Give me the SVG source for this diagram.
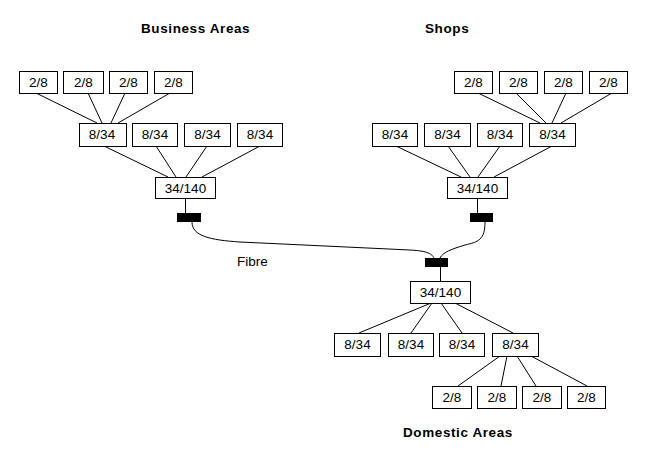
<svg xmlns="http://www.w3.org/2000/svg" width="666" height="456" viewBox="0 0 666 456">
<style>
.b rect{fill:#fff;stroke:#000;stroke-width:1}
.b text{font-family:"Liberation Sans",Arial,sans-serif;font-size:13.5px;text-anchor:middle;fill:#000}
.t{font-family:"Liberation Sans",Arial,sans-serif;font-size:13.5px;font-weight:bold;letter-spacing:0.6px;fill:#000}
.l{font-family:"Liberation Sans",Arial,sans-serif;font-size:13.5px;fill:#000}
#connectors line,#connectors path{stroke:#000;stroke-width:1;fill:none}
.blk{fill:#000}
</style>
<rect width="666" height="456" fill="#fff"/>
<text class="t" x="141" y="33">Business Areas</text>
<text class="t" x="425" y="33">Shops</text>
<text class="t" x="403" y="437">Domestic Areas</text>
<text class="l" x="237" y="266">Fibre</text>
<g id="connectors">
<line x1="36" y1="93" x2="97" y2="123"/>
<line x1="88" y1="93" x2="102" y2="123"/>
<line x1="125" y1="93" x2="111" y2="123"/>
<line x1="170" y1="93" x2="118" y2="123"/>
<line x1="104" y1="146" x2="168" y2="177"/>
<line x1="156" y1="146" x2="176" y2="177"/>
<line x1="207" y1="146" x2="186" y2="177"/>
<line x1="260" y1="146" x2="202" y2="177"/>
<line x1="185.5" y1="198" x2="185.5" y2="213"/>
<line x1="478" y1="93" x2="540" y2="123"/>
<line x1="516" y1="93" x2="546" y2="123"/>
<line x1="566" y1="93" x2="552" y2="123"/>
<line x1="612" y1="93" x2="561" y2="123"/>
<line x1="396" y1="146" x2="461" y2="177"/>
<line x1="448" y1="146" x2="470" y2="177"/>
<line x1="500" y1="146" x2="478" y2="177"/>
<line x1="552" y1="146" x2="494" y2="177"/>
<line x1="477.5" y1="198" x2="477.5" y2="213"/>
<path d="M192,222 C192,236 210,240 240,242 L410,250 C428,251 432,254 434,258"/>
<path d="M485,222 C485,240 478,242 465,245 C452,249 443,252 440,258"/>
<line x1="440.5" y1="267" x2="440.5" y2="281"/>
<line x1="431" y1="303" x2="359" y2="333"/>
<line x1="432" y1="303" x2="411" y2="333"/>
<line x1="441" y1="303" x2="462" y2="333"/>
<line x1="455" y1="303" x2="513" y2="333"/>
<line x1="500" y1="356" x2="458" y2="386"/>
<line x1="507" y1="356" x2="501" y2="386"/>
<line x1="517" y1="356" x2="536" y2="386"/>
<line x1="531" y1="356" x2="587" y2="386"/>
</g>
<rect class="blk" x="177" y="213" width="24" height="9"/>
<rect class="blk" x="470" y="213" width="23" height="9"/>
<rect class="blk" x="425" y="258" width="23" height="9"/>
<g id="ba-28-1" class="b"><rect x="19.5" y="71.5" width="38" height="22"/><text x="38.5" y="87">2/8</text></g>
<g id="ba-28-2" class="b"><rect x="63.5" y="71.5" width="40" height="22"/><text x="83.5" y="87">2/8</text></g>
<g id="ba-28-3" class="b"><rect x="109.5" y="71.5" width="38" height="22"/><text x="128.5" y="87">2/8</text></g>
<g id="ba-28-4" class="b"><rect x="154.5" y="71.5" width="38" height="22"/><text x="173.5" y="87">2/8</text></g>
<g id="ba-834-1" class="b"><rect x="79.5" y="123.5" width="47" height="23"/><text x="102" y="139">8/34</text></g>
<g id="ba-834-2" class="b"><rect x="132.5" y="123.5" width="45" height="23"/><text x="155" y="139">8/34</text></g>
<g id="ba-834-3" class="b"><rect x="184.5" y="123.5" width="46" height="23"/><text x="207.5" y="139">8/34</text></g>
<g id="ba-834-4" class="b"><rect x="237.5" y="123.5" width="45" height="23"/><text x="260" y="139">8/34</text></g>
<g id="ba-34140" class="b"><rect x="155.5" y="177.5" width="60" height="21"/><text x="185.5" y="193">34/140</text></g>
<g id="sh-28-1" class="b"><rect x="454.5" y="71.5" width="38" height="22"/><text x="473.5" y="87">2/8</text></g>
<g id="sh-28-2" class="b"><rect x="499.5" y="71.5" width="38" height="22"/><text x="518.5" y="87">2/8</text></g>
<g id="sh-28-3" class="b"><rect x="544.5" y="71.5" width="38" height="22"/><text x="563.5" y="87">2/8</text></g>
<g id="sh-28-4" class="b"><rect x="589.5" y="71.5" width="38" height="22"/><text x="608.5" y="87">2/8</text></g>
<g id="sh-834-1" class="b"><rect x="372.5" y="123.5" width="45" height="23"/><text x="395" y="139">8/34</text></g>
<g id="sh-834-2" class="b"><rect x="424.5" y="123.5" width="46" height="23"/><text x="447.5" y="139">8/34</text></g>
<g id="sh-834-3" class="b"><rect x="477.5" y="123.5" width="45" height="23"/><text x="500" y="139">8/34</text></g>
<g id="sh-834-4" class="b"><rect x="529.5" y="123.5" width="46" height="23"/><text x="552.5" y="139">8/34</text></g>
<g id="sh-34140" class="b"><rect x="447.5" y="177.5" width="60" height="21"/><text x="477.5" y="193">34/140</text></g>
<g id="da-34140" class="b"><rect x="410.5" y="281.5" width="60" height="22"/><text x="440.5" y="297">34/140</text></g>
<g id="da-834-1" class="b"><rect x="334.5" y="333.5" width="46" height="23"/><text x="357.5" y="349">8/34</text></g>
<g id="da-834-2" class="b"><rect x="388.5" y="333.5" width="45" height="23"/><text x="411" y="349">8/34</text></g>
<g id="da-834-3" class="b"><rect x="439.5" y="333.5" width="45" height="23"/><text x="462" y="349">8/34</text></g>
<g id="da-834-4" class="b"><rect x="492.5" y="333.5" width="46" height="23"/><text x="515.5" y="349">8/34</text></g>
<g id="da-28-1" class="b"><rect x="432.5" y="386.5" width="39" height="22"/><text x="452" y="402">2/8</text></g>
<g id="da-28-2" class="b"><rect x="477.5" y="386.5" width="39" height="22"/><text x="497" y="402">2/8</text></g>
<g id="da-28-3" class="b"><rect x="522.5" y="386.5" width="39" height="22"/><text x="542" y="402">2/8</text></g>
<g id="da-28-4" class="b"><rect x="567.5" y="386.5" width="38" height="22"/><text x="586.5" y="402">2/8</text></g>
</svg>
